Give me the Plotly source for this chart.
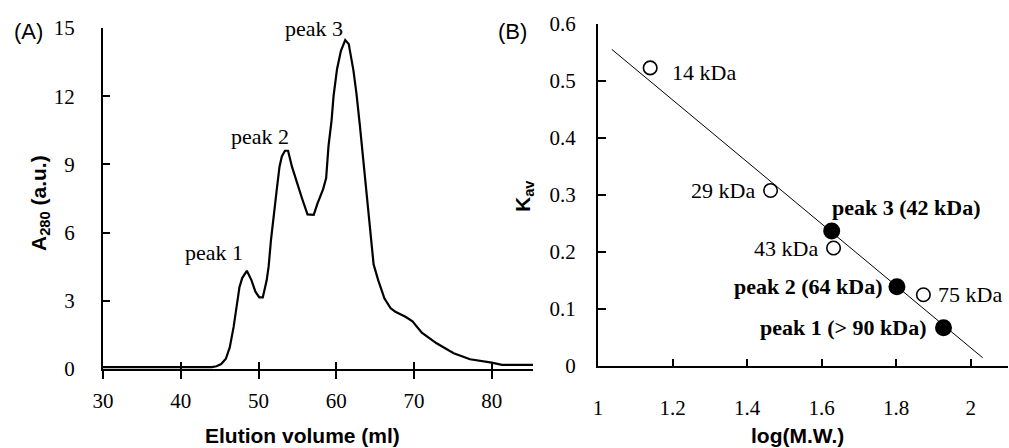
import plotly.graph_objects as go

W, H = 1009, 448

# ---------------- Panel A data: chromatogram ----------------
elution_ml = [30, 44.0, 44.6, 45.2, 45.8, 46.3, 46.8, 47.2, 47.55, 47.9,
              48.5, 49.1, 49.6, 50.1, 50.55, 51.05, 51.3, 51.6, 52.0, 52.35,
              52.7, 53.0, 53.4, 53.8, 54.3, 54.9, 55.6, 56.3, 57.1, 57.6,
              58.3, 58.7, 59.0, 59.4, 59.65, 60.1, 60.6, 61.15, 61.6, 62.2,
              62.6, 63.05, 63.6, 64.0, 64.3, 64.8, 65.4, 66.2, 67.0, 67.6,
              68.9, 69.8, 71.0, 72.9, 75.1, 77.2, 80.0, 81.3, 85.3]
a280 = [0.08, 0.08, 0.12, 0.22, 0.45, 0.95, 1.85, 2.75, 3.6, 4.0,
        4.32, 3.9, 3.4, 3.15, 3.15, 3.9, 4.5, 5.67, 7.0, 7.9,
        8.9, 9.35, 9.6, 9.6, 8.9, 8.2, 7.5, 6.8, 6.78, 7.3,
        7.9, 8.4, 9.8, 10.95, 12.0, 13.2, 14.0, 14.47, 14.3, 13.15,
        12.1, 10.66, 8.8, 7.45, 6.4, 4.6, 3.9, 3.1, 2.67, 2.52,
        2.3, 2.1, 1.6, 1.13, 0.69, 0.43, 0.28, 0.18, 0.18]

peak_labels = ["peak 1", "peak 2", "peak 3"]
peak_ml = [48.5, 53.6, 61.15]
peak_a280 = [4.32, 9.6, 14.47]

xticks_a = [30, 40, 50, 60, 70, 80]
yticks_a = [0, 3, 6, 9, 12, 15]

# ---------------- Panel B data: calibration ----------------
std_logmw = [1.14, 1.463, 1.632, 1.873]
std_kav = [0.523, 0.308, 0.207, 0.125]
std_labels = ["14 kDa", "29 kDa", "43 kDa", "75 kDa"]

sample_logmw = [1.927, 1.802, 1.627]
sample_kav = [0.067, 0.139, 0.237]
sample_labels = ["peak 1 (> 90 kDa)", "peak 2 (64 kDa)", "peak 3 (42 kDa)"]

fit_logmw = [1.037, 2.032]
fit_slope, fit_intercept = -0.5437, 1.1193
fit_kav = [fit_intercept + fit_slope * v for v in fit_logmw]

xticks_b = [1, 1.2, 1.4, 1.6, 1.8, 2]
yticks_b = [0, 0.1, 0.2, 0.3, 0.4, 0.5, 0.6]

SERIF = "Liberation Serif"
SANS = "Liberation Sans"


def tickfont():
    return dict(family=SERIF, size=21, color="black")


fig = go.Figure()

# Panel A curve
fig.add_trace(go.Scatter(x=elution_ml, y=a280, mode="lines",
                         line=dict(color="black", width=2.2),
                         xaxis="x", yaxis="y", showlegend=False, hoverinfo="skip"))
# helper invisible trace to activate the overlay axis (inside ticks)
fig.add_trace(go.Scatter(x=[xticks_a[0]], y=[yticks_a[0]], mode="markers",
                         marker=dict(opacity=0), xaxis="x3", yaxis="y",
                         showlegend=False, hoverinfo="skip"))

# Panel B fit line
fig.add_trace(go.Scatter(x=fit_logmw, y=fit_kav, mode="lines",
                         line=dict(color="black", width=1),
                         xaxis="x2", yaxis="y2", showlegend=False, hoverinfo="skip"))
# standards (open circles)
fig.add_trace(go.Scatter(x=std_logmw, y=std_kav, mode="markers",
                         marker=dict(symbol="circle", size=13.5, color="white",
                                     line=dict(color="black", width=1.6)),
                         xaxis="x2", yaxis="y2", showlegend=False, hoverinfo="skip"))
# samples (filled circles)
fig.add_trace(go.Scatter(x=sample_logmw, y=sample_kav, mode="markers",
                         marker=dict(symbol="circle", size=17, color="black",
                                     line=dict(color="black", width=0)),
                         xaxis="x2", yaxis="y2", showlegend=False, hoverinfo="skip"))


def axis_common():
    return dict(showgrid=False, zeroline=False, showline=True, linecolor="black",
                linewidth=2, tickcolor="black", tickwidth=2, tickfont=tickfont())


fig.update_layout(
    width=W, height=H, template="none",
    font=dict(family=SERIF, size=21, color="black"),
    paper_bgcolor="white", plot_bgcolor="white",
    margin=dict(l=0, r=0, t=0, b=0),
    xaxis=dict(domain=[103 / W, 533 / W], range=[30, 85.3], anchor="y",
               tickvals=xticks_a, ticks="outside", ticklen=8,
               ticklabelstandoff=4, **axis_common()),
    xaxis3=dict(domain=[103 / W, 533 / W], range=[30, 85.3], anchor="y",
                overlaying="x", tickvals=xticks_a, ticks="inside", ticklen=7,
                showticklabels=False, showgrid=False, zeroline=False, showline=False,
                tickcolor="black", tickwidth=2),
    yaxis=dict(domain=[1 - 369 / H, 1 - 28 / H], range=[0, 15], anchor="x",
               tickvals=yticks_a, ticks="inside", ticklen=7,
               ticklabelstandoff=22, **axis_common()),
    xaxis2=dict(domain=[598 / W, 1008 / W], range=[1, 2.1], anchor="y2",
                tickvals=xticks_b, ticks="inside", ticklen=7,
                ticklabelstandoff=22, **axis_common()),
    yaxis2=dict(domain=[1 - 366 / H, 1 - 24 / H], range=[0, 0.6], anchor="x2",
                tickvals=yticks_b, ticks="inside", ticklen=8,
                ticklabelstandoff=16, **axis_common()),
)

ann = []
TXT = dict(family=SERIF, size=22, color="black")
BTXT = dict(family=SERIF, size=22, color="black", weight="bold")
TITLE = dict(family=SANS, size=21, color="black", weight="bold")

# Panel A peak labels
shifts_a = [(-2, 4), (4, 0), (0, -3)]
for lab, xv, yv, (dx, dy) in zip(peak_labels, peak_ml, peak_a280, shifts_a):
    ann.append(dict(x=xv, y=yv, xref="x", yref="y", text=lab, showarrow=False,
                    xanchor="right", yanchor="bottom", xshift=dx, yshift=dy, font=TXT))

# Panel B standard labels
std_pos = [("left", 20, -5), ("right", -14, 0), ("right", -14, 0), ("left", 13, 0)]
for lab, xv, yv, (xa, dx, dy) in zip(std_labels, std_logmw, std_kav, std_pos):
    ann.append(dict(x=xv, y=yv, xref="x2", yref="y2", text=lab, showarrow=False,
                    xanchor=xa, yanchor="middle", xshift=dx, yshift=dy, font=TXT))

# Panel B sample labels
samp_pos = [("right", -15, 0), ("right", -12, 0), ("left", -2, 23)]
for lab, xv, yv, (xa, dx, dy) in zip(sample_labels, sample_logmw, sample_kav, samp_pos):
    ann.append(dict(x=xv, y=yv, xref="x2", yref="y2", text=lab, showarrow=False,
                    xanchor=xa, yanchor="middle", xshift=dx, yshift=dy, font=BTXT))

# Axis titles
ann.append(dict(x=302 / W, y=1 - 435 / H, xref="paper", yref="paper",
                text="Elution volume (ml)", showarrow=False, font=TITLE,
                xanchor="center", yanchor="middle"))
ann.append(dict(x=797 / W, y=1 - 435 / H, xref="paper", yref="paper",
                text="log(M.W.)", showarrow=False, font=TITLE,
                xanchor="center", yanchor="middle"))
ann.append(dict(x=40 / W, y=1 - 203 / H, xref="paper", yref="paper",
                text="A<sub>280</sub> (a.u.)", showarrow=False, font=TITLE,
                textangle=-90, xanchor="center", yanchor="middle"))
ann.append(dict(x=524 / W, y=1 - 196 / H, xref="paper", yref="paper",
                text="K<sub>av</sub>", showarrow=False, font=TITLE,
                textangle=-90, xanchor="center", yanchor="middle"))

# Panel letters
ann.append(dict(x=28 / W, y=1 - 32 / H, xref="paper", yref="paper", text="(A)",
                showarrow=False, font=dict(family=SANS, size=22, color="black"),
                xanchor="center", yanchor="middle"))
ann.append(dict(x=512 / W, y=1 - 32 / H, xref="paper", yref="paper", text="(B)",
                showarrow=False, font=dict(family=SANS, size=22, color="black"),
                xanchor="center", yanchor="middle"))

fig.update_layout(annotations=ann)
fig.write_html("out.html", config={"displayModeBar": False},
               post_script="document.body.style.margin='0px';")
